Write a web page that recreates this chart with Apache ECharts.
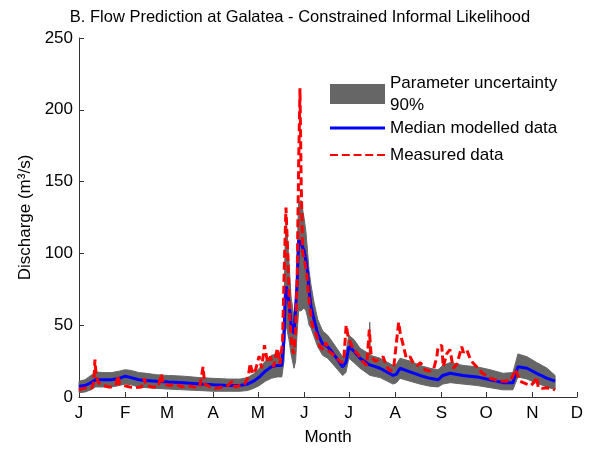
<!DOCTYPE html>
<html><head><meta charset="utf-8">
<script src="https://cdn.jsdelivr.net/npm/echarts@6/dist/echarts.min.js"></script>
<style>html,body{margin:0;padding:0;background:#fff}#c{width:600px;height:449px}</style>
</head><body><div id="c"></div>
<script>
const monthTicks = [0,31,59,90,120,151,181,212,243,273,304,334];
const monthLabels = ['J','F','M','A','M','J','J','A','S','O','N','D'];

const modelDays = [0,4,8,11,16,22,27,31,35,40,45,52,60,70,81,90,100,108,113,117,121,125,129,133,136,137.5,138.2,139,140.8,142.2,144.2,145.3,146.3,147.3,148.9,150.9,152.2,153.4,154.3,155.6,157.6,160.1,163.4,166.8,170.2,173.5,176.8,179,181,184.4,188.5,194.6,195,195.4,202,210.6,213,215.3,222,228.7,235.4,240.8,244,249,257.5,267,275.7,284.4,291,294.4,300.5,307,314,319.3];
const medianVals = [7.5,8,10,12,12,12,13,14.5,13.5,12,11.5,11,10.5,10,9,8.5,8,8,9,11,14,18,21,22,22,40,67,77,66,51,44,44,80,109,107,102,95,86,74,63,54,44,37,35,30.6,26,21,24,35,32,27,22.5,22,22,20,15,16,20,17.5,15,13,12,15,16.5,15,14,12,10,10,21,20,16.5,13,11];
const lowerVals = [3,3.5,5,7,7,7,8,9,8.5,7,6.5,6,5.5,5,4.5,4,4,4,4.5,6,8,11,13,14,14,25,45,50,40,30,20,25,45,60,60,62,60,55,50,48,42,35,29,27,23,19,15,17,27,24,20,15.5,15,15,13.5,9,10,13,11,9,7.5,7,9,10,9,8,6.5,5,5,14,12.5,9.5,7,5];
const upperVals = [11,12,15,17.5,17,17,18,19,18.5,17,16.5,15.5,15,14.5,13.5,13,12.5,12.5,13.5,16,20,25,29,30,31,60,105,125,95,70,55,60,100,135,137,125,115,100,88,78,66,54,46,43,38,33,28,31,43,40,34,30,52,29,27,22,23,27,25,22,20,19,22,24,22,21,19,16.5,17,30,28,24,20,15];

const measDays = [0,3,6,8.5,10,10.7,11.5,13,16,20,23,25,26,27.2,30,34,38,42,43.8,45,49,53,55.2,56.5,61,65,69,73,77,81,83.2,84.3,88,92,96,100,102.8,104.5,108,111,113.5,114.8,116.5,118.5,120.8,122.5,124.4,126.5,128.5,130.5,133,134.8,136.5,137.8,138.8,140,141.4,142.8,144,145.2,146.3,147.3,148.2,149,150,151.3,152.8,154.5,156.5,159,161.6,164,165.5,167.5,170,173,175.8,177.5,179.2,180.5,182,184,187,190,193,194.7,196,198.5,201,204,206,208.6,211,214.4,215.5,217,219.5,222,224.5,227,229,232,235.4,238,240,240.8,243.3,244.3,246.6,248.8,251,253.5,256.7,257.8,260,262.2,264,266.7,270,273,275.7,279,282.4,286.9,289,290.5,292.4,294,295.8,298,300.3,303,305,307,308,311,313.7,316,319.3];
const measVals = [5,6,6.5,6,11,26,15,10,8,7,7,9,15,9,8,7,6.5,7,13,8,7,7,16,9,8,9,7,8,7,7,21,9,7,6,7,8,11,7,8,9,14,23.5,16,19,28.5,20,36,24,28,21,34,23,38,95,132,100,55,35,30,45,81,160,215,150,101,95,85,65,50,44,35,33,38,32,30,27,24,25,50,42,38,33,30,25,22,47,28,25,26,28,22,18,20,52,44,38,27,28,23,22,24,19,18,20,28,35,36,21,30,33,20,23,35,31,33,27,24,21,17,15,13,12,11,11,14,13,19,16,11,10,9,8,10,14,6.5,6,6.5,6,5];

const font = '"Liberation Sans", Arial, Helvetica, sans-serif';
const pair = (xs, ys) => xs.map((x, i) => [x, ys[i]]);
const bandName = 'Parameter uncertainty\n90%';
const medName = 'Median modelled data';
const measName = 'Measured data';
const axisColor = '#333';
const txt = {fontFamily: font, fontSize: 17, color: '#000'};
const bandData = modelDays.map((d, i) => [d, lowerVals[i], upperVals[i]]);
const dashIcon = 'path://M0,0h8v2h-8z M11.75,0h8v2h-8z M23.5,0h8v2h-8z M35.25,0h8v2h-8z M47,0h8v2h-8z';

const chart = echarts.init(document.getElementById('c'), null, {renderer: 'canvas'});
chart.setOption({
  animation: false,
  backgroundColor: '#fff',
  title: {
    text: 'B. Flow Prediction at Galatea - Constrained Informal Likelihood',
    left: 'center', top: 9, padding: 0,
    textStyle: {fontFamily: font, fontSize: 16.5, color: '#000', fontWeight: 'normal'}
  },
  grid: {left: 79, right: 23, top: 38, bottom: 52, containLabel: false, outerBoundsMode: 'none'},
  xAxis: {
    type: 'value', min: 0, max: 334,
    name: 'Month', nameLocation: 'middle', nameGap: 32, nameTextStyle: txt,
    axisLine: {show: true, onZero: false, lineStyle: {color: axisColor, width: 1}},
    axisTick: {show: true, inside: true, length: 5, customValues: monthTicks, lineStyle: {color: axisColor}},
    axisLabel: Object.assign({customValues: monthTicks, margin: 8,
      formatter: v => monthLabels[monthTicks.indexOf(v)] || ''}, txt),
    splitLine: {show: false}
  },
  yAxis: {
    type: 'value', min: 0, max: 250, interval: 50,
    name: 'Discharge (m³/s)', nameLocation: 'middle', nameGap: 43, nameRotate: 90, nameTextStyle: txt,
    axisLine: {show: true, onZero: false, lineStyle: {color: axisColor, width: 1}},
    axisTick: {show: true, inside: true, length: 5, lineStyle: {color: axisColor}},
    axisLabel: Object.assign({margin: 6}, txt),
    splitLine: {show: false}
  },
  legend: [
    {left: 330, top: 72, padding: 0, orient: 'vertical', itemWidth: 55, itemHeight: 20, selectedMode: false,
     textStyle: Object.assign({lineHeight: 22}, txt),
     data: [{name: bandName, icon: 'rect', itemStyle: {color: '#666666'}}]},
    {left: 330, top: 119, padding: 0, orient: 'vertical', itemWidth: 55, itemHeight: 3, selectedMode: false,
     textStyle: Object.assign({lineHeight: 18}, txt),
     data: [{name: medName, icon: 'rect', itemStyle: {color: '#0000ff'}}]},
    {left: 330, top: 146, padding: 0, orient: 'vertical', itemWidth: 55, itemHeight: 3, selectedMode: false,
     textStyle: Object.assign({lineHeight: 18}, txt),
     data: [{name: measName, icon: dashIcon, itemStyle: {color: '#ff0000'}}]}
  ],
  series: [
    {name: bandName, type: 'custom', data: bandData, encode: {x: 0, y: [1, 2]},
     itemStyle: {color: '#666666'}, silent: true,
     renderItem: function (params, api) {
       if (params.dataIndex !== 0) return null;
       const up = [], lo = [];
       for (let i = 0; i < bandData.length; i++) {
         up.push(api.coord([bandData[i][0], bandData[i][2]]));
         lo.push(api.coord([bandData[i][0], bandData[i][1]]));
       }
       return {type: 'polygon', shape: {points: up.concat(lo.reverse())},
               style: {fill: '#666666', stroke: '#666666', lineWidth: 1}};
     }},
    {name: medName, type: 'line', data: pair(modelDays, medianVals), symbol: 'none',
     itemStyle: {color: '#0000ff'}, lineStyle: {color: '#0000ff', width: 3}, silent: true},
    {name: measName, type: 'line', data: pair(measDays, measVals), symbol: 'none',
     itemStyle: {color: '#ff0000'}, lineStyle: {color: '#ff0000', width: 3, type: [8, 4]}, silent: true}
  ]
});
</script>
</body></html>
